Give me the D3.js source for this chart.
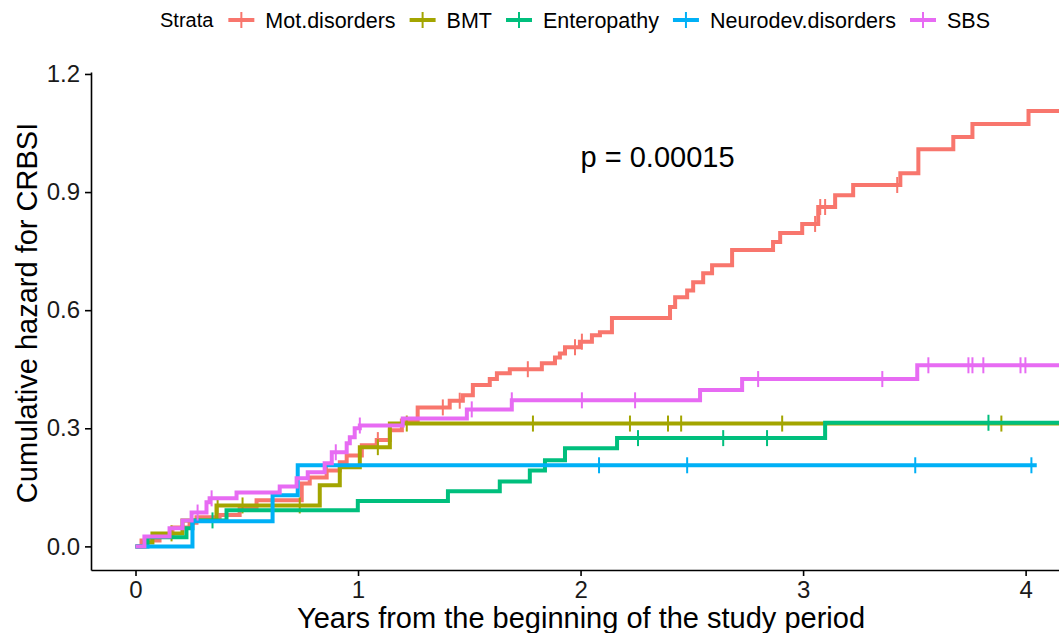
<!DOCTYPE html>
<meta charset="utf-8">
<style>
html, body { margin: 0; padding: 0; background: #fff; }
svg { display: block; font-family: "Liberation Sans", Arial, sans-serif; }
</style>
<body>
<script src="https://d3js.org/d3.v7.min.js"></script>
<script>

var width = 1059,
    height = 633;

// strata, in legend order
var strata = ["Mot.disorders", "BMT", "Enteropathy", "Neurodev.disorders", "SBS"];
var colors = ["#F8766D", "#A3A500", "#00BF7D", "#00B0F6", "#E76BF3"];

// event times (years) and cumulative hazard after each step
var motTimes = [0.027,0.108,0.166,0.243,0.274,0.378,0.468,0.544,0.747,0.783,0.859,0.918,0.949,1.017,1.084,1.143,1.197,1.268,
  1.412,1.471,1.516,1.592,1.624,1.682,1.826,1.885,1.907,1.930,1.997,2.051,2.087,2.141,2.402,2.425,2.479,2.506,2.551,2.591,
  2.681,2.865,2.897,2.996,3.068,3.144,3.225,3.437,3.518,3.675,3.761,4.013];
var motHaz = [0.015,0.03,0.048,0.06,0.074,0.08,0.10,0.117,0.16,0.175,0.193,0.214,0.231,0.257,0.27,0.295,0.32,0.353,
  0.37,0.384,0.41,0.425,0.44,0.45,0.465,0.48,0.49,0.506,0.52,0.536,0.544,0.58,0.608,0.633,0.65,0.671,0.694,0.714,
  0.753,0.773,0.796,0.819,0.862,0.892,0.918,0.948,1.009,1.04,1.073,1.106];
var motCens = [0.86,1.089,1.381,1.457,1.763,1.975,2.006,3.054,3.077,3.099,3.423];

var bmtTimes = [0.04,0.076,0.211,0.364,0.828,0.918,1.008,1.143];
var bmtHaz = [0.01,0.033,0.066,0.104,0.155,0.201,0.252,0.312];
var bmtCens = [0.162,0.369,0.481,0.738,1.089,1.219,1.786,2.222,2.393,2.452,2.906,3.891];

var entTimes = [0.054,0.229,0.256,0.409,0.999,1.404,1.637,1.772,1.840,1.930,2.164,3.099];
var entHaz = [0.023,0.046,0.066,0.092,0.115,0.14,0.165,0.193,0.219,0.249,0.275,0.314];
var entCens = [0.346,2.258,2.641,2.838,3.833];

var neuTimes = [0.256,0.616,0.729];
var neuHaz = [0.064,0.13,0.206];
var neuCens = [2.083,2.479,3.504,4.026];

var sbsTimes = [0.040,0.153,0.211,0.252,0.319,0.333,0.454,0.648,0.724,0.774,0.850,0.882,0.949,0.963,0.985,1.008,1.201,1.489,1.691,2.537,2.726,3.513];
var sbsHaz = [0.025,0.046,0.066,0.086,0.112,0.122,0.137,0.152,0.173,0.188,0.211,0.239,0.262,0.277,0.30,0.307,0.325,0.348,0.371,0.397,0.425,0.46];
var sbsCens = [0.279,0.342,0.900,1.008,1.511,1.691,2.006,2.245,2.798,3.356,3.563,3.743,3.761,3.810,3.977,3.999];

var endTimes = [4.4, 4.4, 4.4, 4.05, 4.4];

var xTicks = [0, 1, 2, 3, 4];
var yTicks = [0, 0.3, 0.6, 0.9, 1.2];
var pLabel = "p = 0.00015";

var series = [
  {times: motTimes, haz: motHaz, cens: motCens},
  {times: bmtTimes, haz: bmtHaz, cens: bmtCens},
  {times: entTimes, haz: entHaz, cens: entCens},
  {times: neuTimes, haz: neuHaz, cens: neuCens},
  {times: sbsTimes, haz: sbsHaz, cens: sbsCens}
];

var x = d3.scaleLinear().domain([-0.2, 4.15]).range([91, 1059]);
var y = d3.scaleLinear().domain([-0.06, 1.205]).range([570, 72]);

var svg = d3.select("body").append("svg")
  .attr("width", width)
  .attr("height", height);

svg.append("defs").append("clipPath").attr("id", "clip")
  .append("rect").attr("x", 91).attr("y", 0).attr("width", width - 91).attr("height", 570);

function stepValue(s, t){
  var v = 0;
  for (var i = 0; i < s.times.length; i++) {
    if (s.times[i] <= t) v = s.haz[i];
  }
  return v;
}

var line = d3.line()
  .x(function(d){ return x(d[0]); })
  .y(function(d){ return y(d[1]); })
  .curve(d3.curveStepAfter);

var curves = svg.append("g").attr("clip-path", "url(#clip)");

series.forEach(function(s, i){
  var pts = [[0, 0]];
  s.times.forEach(function(t, j){ pts.push([t, s.haz[j]]); });
  pts.push([endTimes[i], s.haz[s.haz.length - 1]]);

  var g = curves.append("g");
  g.append("path")
    .datum(pts)
    .attr("fill", "none")
    .attr("stroke", colors[i])
    .attr("stroke-width", 4)
    .attr("d", line);

  g.selectAll("line.cens")
    .data(s.cens)
    .enter().append("line")
    .attr("class", "cens")
    .attr("x1", function(t){ return x(t); })
    .attr("x2", function(t){ return x(t); })
    .attr("y1", function(t){ return y(stepValue(s, t)) - 8; })
    .attr("y2", function(t){ return y(stepValue(s, t)) + 8; })
    .attr("stroke", colors[i])
    .attr("stroke-width", 2);
});

// axes
var xAxis = svg.append("g")
  .attr("transform", "translate(0,570)")
  .call(d3.axisBottom(x).tickValues(xTicks).tickFormat(d3.format("d")).tickSize(6).tickSizeOuter(0).tickPadding(5));
var yAxis = svg.append("g")
  .attr("transform", "translate(91,0)")
  .call(d3.axisLeft(y).tickValues(yTicks).tickFormat(d3.format(".1f")).tickSize(6).tickSizeOuter(0).tickPadding(5));

[xAxis, yAxis].forEach(function(a){
  a.select(".domain").attr("stroke", "#000").attr("stroke-width", 1.6);
  a.selectAll(".tick line").attr("stroke", "#000").attr("stroke-width", 1.6);
  a.selectAll(".tick text")
    .attr("fill", "#1a1a1a")
    .style("font-family", "'Liberation Sans', Arial, sans-serif")
    .style("font-size", "24px");
});

svg.append("text")
  .attr("x", 581)
  .attr("y", 628)
  .attr("text-anchor", "middle")
  .style("font-size", "29px")
  .text("Years from the beginning of the study period");

svg.append("text")
  .attr("transform", "translate(37,313) rotate(-90)")
  .attr("text-anchor", "middle")
  .style("font-size", "29px")
  .text("Cumulative hazard for CRBSI");

svg.append("text")
  .attr("x", x(2))
  .attr("y", y(0.99))
  .attr("dy", "0.35em")
  .style("font-size", "29px")
  .text(pLabel);

// legend
var legend = svg.append("g");
var lx = 0;
var title = legend.append("text")
  .attr("x", lx).attr("dy", "0.35em")
  .style("font-size", "20px")
  .text("Strata");
lx += title.node().getComputedTextLength() + 15;

strata.forEach(function(name, i){
  var key = legend.append("g").attr("transform", "translate(" + lx + ",0)");
  key.append("line").attr("x1", 0).attr("x2", 26).attr("y1", 0).attr("y2", 0)
    .attr("stroke", colors[i]).attr("stroke-width", 4);
  key.append("line").attr("x1", 13).attr("x2", 13).attr("y1", -8).attr("y2", 8)
    .attr("stroke", colors[i]).attr("stroke-width", 2);
  lx += 37;
  var t = legend.append("text")
    .attr("x", lx).attr("dy", "0.35em")
    .style("font-size", "21.5px")
    .text(name);
  lx += t.node().getComputedTextLength() + 14;
});
lx -= 14;
legend.attr("transform", "translate(" + (575 - lx / 2) + ",20)");

</script>
</body>
